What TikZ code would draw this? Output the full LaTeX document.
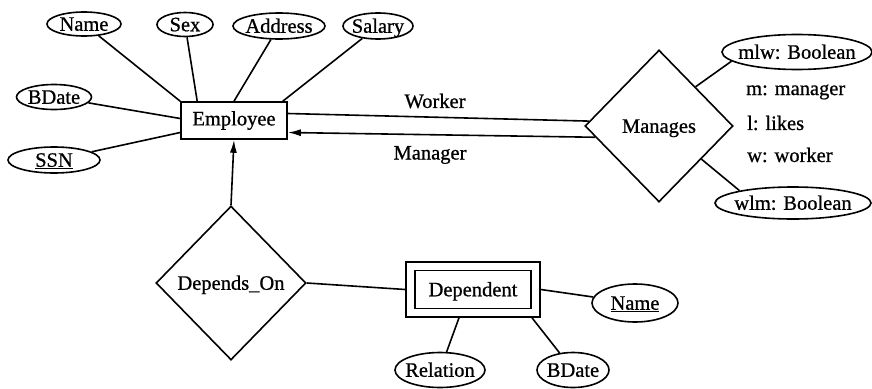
\documentclass[tikz,border=0pt]{standalone}
\usepackage{fontspec}
\setmainfont{Liberation Serif}
\newfontfamily\diagfont{Liberation Serif}[FakeBold=0.8]
\usetikzlibrary{shapes.geometric,arrows.meta,calc}
% text that does not widen or heighten its shape, centred on the node
\newcommand{\fixtext}[1]{\makebox[0pt]{\raisebox{-0.33em}[0pt][0pt]{#1}}}
\begin{document}
\begin{tikzpicture}[x=1pt,y=-1pt,
  every node/.style={font=\diagfont\fontsize{20.5pt}{24pt}\selectfont},
  conn/.style={line width=1.6pt},
  arrowconn/.style={conn,-{Latex[length=13pt,width=7pt]}},
  attr/.style n args={2}{ellipse, draw, line width=1.6pt, inner sep=0pt,
    minimum width=#1, minimum height=#2},
  relship/.style n args={2}{diamond, draw, line width=1.6pt, inner sep=0pt,
    minimum width=#1, minimum height=#2},
  entity/.style n args={2}{rectangle, draw, line width=1.6pt, inner sep=0pt,
    minimum width=#1, minimum height=#2},
  plain/.style={inner sep=0pt}]

\fill[white] (0,0) rectangle (872,388);
\useasboundingbox (0,0) rectangle (872,388);

% entities
\node[entity={106pt}{37pt}] (employee) at (234,120.5) {Employee};
\node[entity={134pt}{55pt}] (dependent) at (473,289.5) {};
\node[entity={116pt}{38pt}] (dependentin) at (dependent.center) {\fixtext{Dependent}};

% relationships
\node[relship={148pt}{152pt}] (manages) at (659,126) {\fixtext{Manages}};
\node[relship={150pt}{154pt}] (dependson) at (231,283) {\fixtext{Depends\_On}};

% employee attributes
\node[attr={74pt}{24pt}] (name) at (84,24) {\fixtext{Name}};
\node[attr={56pt}{24pt}] (sex) at (185,24.5) {\fixtext{Sex}};
\node[attr={92pt}{26pt}] (address) at (279,26) {\fixtext{Address}};
\node[attr={70pt}{26pt}] (salary) at (378,26) {\fixtext{Salary}};
\node[attr={75pt}{25pt}] (bdate) at (54,97) {\fixtext{BDate}};
\node[attr={92pt}{26pt}] (ssn) at (54,160) {\fixtext{\underline{SSN}}};

% relationship attributes
\node[attr={150pt}{35pt}] (mlw) at (797,52) {\fixtext{mlw: Boolean}};
\node[attr={156pt}{32pt}] (wlm) at (793,203) {\fixtext{wlm: Boolean}};

% dependent attributes
\node[attr={86pt}{38pt}] (dname) at (635,303) {\fixtext{\underline{Name}}};
\node[attr={90pt}{35pt}] (relation) at (440,370) {\fixtext{Relation}};
\node[attr={72pt}{35pt}] (dbdate) at (573,370) {\fixtext{BDate}};

% role labels and legend
\node[plain] (worker) at (435,101) {Worker};
\node[plain] (manager) at (430,155) {Manager};
\node[plain, anchor=west] (legm) at (746,92) {m: manager};
\node[plain, anchor=west] (legl) at (747,123) {l: likes};
\node[plain, anchor=west] (legw) at (747,155) {w: worker};

% attribute links
\draw[conn] (name) -- (employee.north west);
\draw[conn] (sex) -- ([xshift=17pt]employee.north west);
\draw[conn] (address) -- (employee.north);
\draw[conn] (salary) -- ([xshift=-5pt]employee.north east);
\draw[conn] (bdate) -- ([yshift=2pt]employee.west);
\draw[conn] (ssn) -- ([yshift=-12pt]employee.west);
\draw[conn] (manages.47) -- (mlw.188);
\draw[conn] (manages.322) -- (wlm.167);
\draw[conn] (dependent.east) -- (dname);
\draw[conn] ([xshift=-14pt]dependent.south) -- (relation);
\draw[conn] ([xshift=59pt]dependent.south) -- (dbdate);

% relationship links
\draw[conn] ([yshift=7pt]employee.east) -- (manages.176);
\draw[arrowconn] (manages.190) -- ([yshift=-12pt]employee.east);
\draw[arrowconn] (dependson.north) -- (employee.south);
\draw[conn] (dependson.east) -- (dependent.west);
\end{tikzpicture}
\end{document}
